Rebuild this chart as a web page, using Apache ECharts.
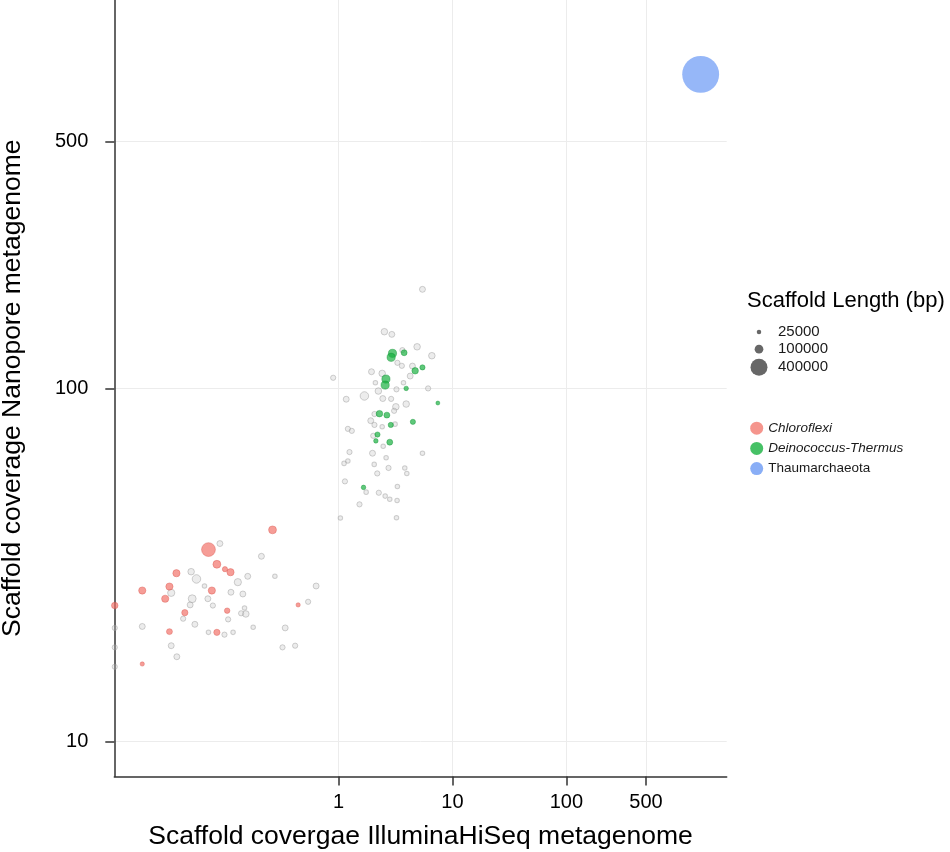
<!DOCTYPE html>
<html>
<head>
<meta charset="utf-8">
<script src="https://cdn.jsdelivr.net/npm/echarts@6/dist/echarts.min.js"></script>
<style>html,body{margin:0;padding:0;background:#fff}#c{width:950px;height:852px}</style>
</head>
<body>
<div id="c"></div>
<script>
// ---- data (coverage values; lengths in bp) ----
const xTicks = [1, 10, 100, 500];
const yTicks = [10, 100, 500];
const xRange = [0.0108, 2550];
const yRange = [7.97, 1260];

const chloroflexiIllumina = [0.264,0.0724,0.0858,0.101,0.113,0.0379,0.0190,0.0329,0.0775,0.0302,0.0109,0.0449,0.1056,0.443,0.0329,0.0858,0.0190];
const chloroflexiNanopore = [39.8,35.0,31.8,30.8,30.2,30.0,26.8,27.5,26.8,25.4,24.3,23.2,23.5,24.4,20.5,20.4,16.6];
const chloroflexiLength   = [82000,263000,82000,34000,68000,68000,68000,68000,68000,68000,55000,50000,38000,22000,45000,50000,22000];

const deinococcusIllumina = [2.98,2.90,3.77,4.71,5.46,2.61,2.57,3.93,7.45,2.29,2.66,4.50,2.88,2.20,2.13,2.82,1.66];
const deinococcusNanopore = [125.8,122.6,126.3,112.3,114.8,106.4,102.3,100.1,91.0,84.9,84.1,80.5,78.9,74.1,71.1,70.5,52.5];
const deinococcusLength   = [89000,89000,45000,55000,34000,89000,89000,25000,18500,55000,45000,34000,34000,34000,25000,45000,25000];

const thaumIllumina = [1507];
const thaumNanopore = [776];
const thaumLength   = [1940000];

const otherIllumina = [0.0912,0.211,0.0510,0.0568,0.160,0.277,0.131,0.0668,0.637,0.0341,0.114,0.145,0.0521,0.0715,0.0500,0.0791,0.542,0.150,0.140,0.154,0.0434,0.1077,0.0190,0.0550,0.1786,0.341,0.0724,0.100,0.119,0.0341,0.323,0.417,0.0382,0.0109,0.0109,0.0109,
  5.46,2.53,2.94,3.64,4.90,6.60,3.29,3.60,1.95,2.42,4.46,4.26,0.899,2.11,3.72,2.24,3.23,6.12,1.69,2.45,2.90,1.17,3.93,3.19,3.08,2.07,1.92,2.07,2.42,3.14,1.21,1.31,2.02,2.47,1.25,1.99,5.46,1.12,1.21,2.06,2.62,2.75,3.82,3.98,2.19,1.14,1.75,2.26,2.57,2.82,3.29,3.27,1.53,1.04,3.23];
const otherNanopore = [36.4,33.5,30.3,28.9,29.4,29.4,28.3,27.6,27.6,26.4,26.5,26.2,25.4,25.4,24.4,24.3,24.9,23.9,23.1,23.0,22.3,22.2,21.2,21.5,21.1,21.0,20.4,20.1,20.4,18.7,18.5,18.7,17.4,21.0,18.5,16.3,
  191,144.9,142.4,128.5,131.3,123.9,118.3,116.0,111.6,110.4,115.8,108.5,107.3,103.8,103.8,98.4,99.5,100.1,95.3,93.7,93.5,93.3,90.4,88.8,86.5,84.7,81.1,78.9,78.0,79.3,76.9,75.9,73.5,68.7,66.1,65.6,65.6,61.4,62.4,61.0,63.7,59.6,59.6,57.5,57.5,54.6,50.9,50.7,49.6,48.6,52.8,48.2,47.0,43.0,43.1];
const otherLength = [45000,45000,55000,96000,45000,25000,68000,25000,45000,68000,45000,45000,82000,45000,45000,34000,34000,25000,34000,55000,34000,34000,45000,45000,25000,45000,25000,34000,25000,45000,34000,34000,45000,34000,34000,34000,
  45000,55000,45000,34000,55000,55000,34000,34000,45000,55000,45000,45000,34000,25000,25000,55000,34000,34000,96000,45000,34000,45000,55000,55000,34000,34000,45000,34000,25000,25000,34000,34000,34000,25000,34000,45000,25000,25000,25000,25000,25000,34000,25000,25000,34000,34000,25000,34000,25000,25000,25000,25000,34000,25000,25000];

const sizeLegendValues = [25000, 100000, 400000];
const groupNames = ['Chloroflexi', 'Deinococcus-Thermus', 'Thaumarchaeota'];

// ---- helpers ----
const lg = Math.log10;
const sizeOf = L => 0.0262 * Math.sqrt(L) + 0.4;
const pts = (xs, ys, ls) => xs.map((x, i) => [lg(x), lg(ys[i]), ls[i]]);
const FONT = 'Liberation Sans, Arial, Helvetica, sans-serif';

const axisLineStyle = { color: '#333', width: 1.5 };

// size legend layout
const sizeRowY = [326.7, 346, 367.3];
const sizeIconX = 759, sizeTextX = 778;
const sizeLegends = sizeLegendValues.map((v, i) => {
  const d = sizeOf(v);
  const left = sizeIconX - d / 2;
  return {
    left: left, top: sizeRowY[i] - d / 2, padding: 0, orient: 'vertical',
    itemWidth: d, itemHeight: d, icon: 'circle', selectedMode: false,
    data: [String(v)],
    textStyle: { fontFamily: FONT, fontSize: 15, color: '#1a1a1a', lineHeight: d,
                 padding: [0, 0, 0, sizeTextX - (left + d + 5)] }
  };
});

const legendColors = ['rgba(242,122,113,1)', 'rgba(24,178,64,1)', 'rgba(108,154,244,1)'];

const option = {
  animation: false,
  backgroundColor: '#fff',
  title: {
    text: 'Scaffold Length (bp)', left: 747, top: 290, padding: 0,
    textStyle: { fontFamily: FONT, fontSize: 22, fontWeight: 'normal', color: '#000' }
  },
  grid: { left: 114.3, right: 223.3, top: 0, bottom: 75.5, containLabel: false, outerBoundsMode: 'none' },
  legend: [
    ...sizeLegends,
    {
      left: 750.2, top: 421.2, padding: 0, orient: 'vertical',
      itemWidth: 13, itemHeight: 13, itemGap: 6.2, icon: 'circle', selectedMode: false,
      data: groupNames.map((n, i) => ({ name: n, itemStyle: { color: legendColors[i], borderWidth: 0 } })),
      formatter: n => n === 'Thaumarchaeota' ? n : '{i|' + n + '}',
      textStyle: { fontFamily: FONT, fontSize: 13.5, color: '#1a1a1a', lineHeight: 13,
                   rich: { i: { fontStyle: 'italic', fontFamily: FONT, fontSize: 13.5, color: '#1a1a1a' } } }
    }
  ],
  xAxis: {
    type: 'value', min: lg(xRange[0]), max: lg(xRange[1]),
    name: 'Scaffold covergae IlluminaHiSeq metagenome',
    nameLocation: 'middle', nameGap: 46.5,
    nameTextStyle: { fontFamily: FONT, fontSize: 26.5, color: '#000' },
    axisLine: { show: true, onZero: false, lineStyle: axisLineStyle },
    axisTick: { show: true, length: 9, customValues: xTicks.map(lg), lineStyle: axisLineStyle },
    axisLabel: { customValues: xTicks.map(lg), margin: 16, fontFamily: FONT, fontSize: 20, color: '#000',
                 formatter: v => String(Math.round(Math.pow(10, v))) },
    splitLine: { show: true, lineStyle: { color: '#ececec', width: 1 } }
  },
  yAxis: {
    type: 'value', min: lg(yRange[0]), max: lg(yRange[1]),
    name: 'Scaffold coverage Nanopore metagenome',
    nameLocation: 'middle', nameGap: 88.5,
    nameTextStyle: { fontFamily: FONT, fontSize: 26.5, color: '#000' },
    axisLine: { show: true, onZero: false, lineStyle: axisLineStyle },
    axisTick: { show: true, length: 9, customValues: yTicks.map(lg), lineStyle: axisLineStyle },
    axisLabel: { customValues: yTicks.map(lg), margin: 26, fontFamily: FONT, fontSize: 20, color: '#000',
                 formatter: v => String(Math.round(Math.pow(10, v))) },
    splitLine: { show: true, lineStyle: { color: '#ececec', width: 1 } }
  },
  series: [
    ...sizeLegendValues.map(v => ({
      name: String(v), type: 'scatter', data: [], symbol: 'circle',
      itemStyle: { color: 'rgba(45,45,45,0.9)' }
    })),
    {
      name: 'unassigned', type: 'scatter', symbol: 'circle',
      data: pts(otherIllumina, otherNanopore, otherLength),
      symbolSize: v => sizeOf(v[2]),
      itemStyle: { color: 'rgba(195,195,195,0.4)', borderColor: 'rgba(150,150,150,0.55)', borderWidth: 1 }
    },
    {
      name: groupNames[0], type: 'scatter', symbol: 'circle',
      data: pts(chloroflexiIllumina, chloroflexiNanopore, chloroflexiLength),
      symbolSize: v => sizeOf(v[2]),
      itemStyle: { color: 'rgba(242,112,102,0.85)', borderColor: 'rgba(215,80,70,0.6)', borderWidth: 0.8 }
    },
    {
      name: groupNames[1], type: 'scatter', symbol: 'circle',
      data: pts(deinococcusIllumina, deinococcusNanopore, deinococcusLength),
      symbolSize: v => sizeOf(v[2]),
      itemStyle: { color: 'rgba(20,175,60,0.85)', borderColor: 'rgba(0,140,40,0.6)', borderWidth: 0.8 }
    },
    {
      name: groupNames[2], type: 'scatter', symbol: 'circle',
      data: pts(thaumIllumina, thaumNanopore, thaumLength),
      symbolSize: v => sizeOf(v[2]),
      itemStyle: { color: 'rgba(112,158,246,0.92)' }
    }
  ]
};

echarts.init(document.getElementById('c'), null, { renderer: 'canvas' }).setOption(option);
</script>
</body>
</html>
